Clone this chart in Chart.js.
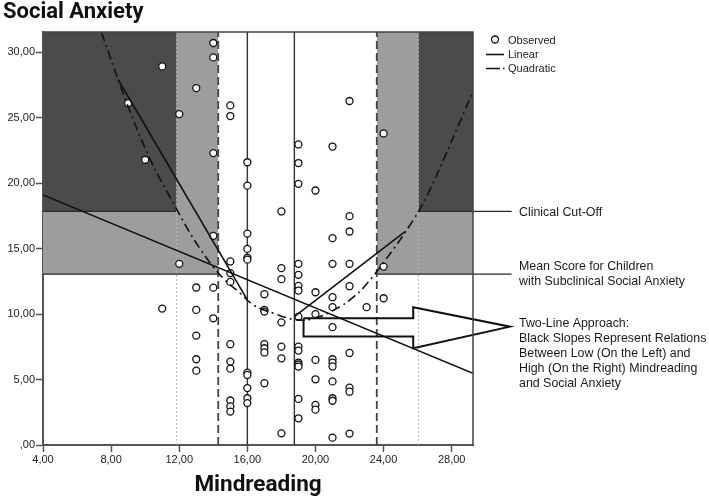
<!DOCTYPE html>
<html>
<head>
<meta charset="utf-8">
<script src="https://cdn.jsdelivr.net/npm/chart.js@4.4.0/dist/chart.umd.min.js"></script>
<style>
  html, body { margin: 0; padding: 0; background: #fff; }
  #wrap { width: 709px; height: 496px; }
</style>
</head>
<body>
<div id="wrap"><canvas id="chart" width="709" height="496"></canvas></div>
<script>
// observed scores
const mindreading = [
  9, 10, 11, 11, 12, 12,
  13, 13, 13, 13, 13, 13,
  14, 14, 14, 14, 14, 14,
  15, 15, 15, 15, 15, 15, 15, 15, 15, 15, 15,
  16, 16, 16, 16, 16, 16, 16, 16, 16, 16, 16,
  17, 17, 17, 17, 17, 17, 17,
  18, 18, 18, 18, 18, 18, 18,
  19, 19, 19, 19, 19, 19, 19, 19, 19, 19, 19, 19, 19, 19, 19,
  20, 20, 20, 20, 20, 20, 20,
  21, 21, 21, 21, 21, 21, 21, 21, 21, 21, 21, 21, 21,
  22, 22, 22, 22, 22, 22, 22, 22, 22,
  23, 24, 24, 24
];
const socialAnxiety = [
  26.12, 21.79, 28.92, 10.42, 25.28, 13.84,
  27.27, 12.03, 10.32, 8.36, 6.55, 5.68,
  30.71, 29.61, 22.30, 15.98, 12.02, 9.68,
  25.94, 25.13, 14.02, 13.13, 12.46, 7.70, 6.37, 5.83, 3.40, 2.95, 2.55,
  21.60, 19.81, 16.15, 14.98, 14.30, 14.16, 5.53, 5.35, 4.35, 3.57, 3.20,
  11.52, 10.32, 10.19, 7.70, 7.39, 7.07, 4.72,
  17.84, 13.51, 12.67, 9.37, 7.52, 6.62, 0.89,
  22.96, 21.54, 19.95, 13.84, 13.00, 12.16, 11.80, 9.81, 7.52, 7.21, 6.30, 6.15, 5.99, 3.52, 2.04,
  19.44, 11.67, 10.00, 6.50, 5.02, 3.06, 2.70,
  22.80, 15.80, 13.84, 11.29, 10.53, 9.00, 6.55, 6.29, 6.00, 4.86, 3.57, 3.38, 0.56,
  26.28, 17.48, 16.31, 13.84, 12.13, 7.03, 4.38, 4.07, 0.87,
  10.53, 23.80, 13.63, 11.21
];

// fit lines (end points / traced points)
const linearX = [4, 29.25];
const linearY = [19.1, 5.48];
const lowSlopeX = [8.42, 16.0];
const lowSlopeY = [27.9, 11.09];
const highSlopeX = [18.76, 25.26];
const highSlopeY = [9.81, 16.3];
const quadX = [7.44, 8.9, 10.3, 11.56, 12.63, 13.22, 14.0, 14.69, 15.57, 16.35, 17.52, 18.9, 20.0, 21.44, 22.13, 22.8, 23.98, 25.75, 26.72, 29.25];
const quadY = [31.5, 26.2, 21.8, 18.7, 16.2, 15.0, 13.6, 12.6, 11.6, 10.7, 10.07, 9.56, 9.7, 10.57, 11.2, 12.0, 13.9, 17.2, 19.5, 27.0];

// reference levels
const clinicalCutOff = 17.84;
const subclinicalMean = 13.05;
const centerLines = [16.0, 18.76];
const dashedLines = [14.29, 23.6];
const dottedLines = [11.85, 26.04];
const labelLineEnd = 31.52;

// block arrow outline
const arrowX = [19.3, 25.74, 25.74, 31.42, 25.74, 25.74, 19.3, 19.3];
const arrowY = [9.69, 9.69, 10.53, 9.04, 7.39, 8.28, 8.28, 9.69];

// axes
const xMin = 4, xMax = 29.25, yMin = 0, yMax = 31.55;
const xTicks = [4, 8, 12, 16, 20, 24, 28];
const xTickLabels = ['4,00', '8,00', '12,00', '16,00', '20,00', '24,00', '28,00'];
const yTicks = [0, 5, 10, 15, 20, 25, 30];
const yTickLabels = [',00', '5,00', '10,00', '15,00', '20,00', '25,00', '30,00'];

const legendLabels = ['Observed', 'Linear', 'Quadratic'];
const notes = {
  cutoff: ['Clinical Cut-Off'],
  mean: ['Mean Score for Children', 'with Subclinical Social Anxiety'],
  twoLine: ['Two-Line Approach:', 'Black Slopes Represent Relations', 'Between Low (On the Left) and',
            'High (On the Right) Mindreading', 'and Social Anxiety']
};

const pts = (xs, ys) => xs.map((x, i) => ({ x, y: ys[i] }));
const vlines = xs => xs.flatMap((x, i) => {
  const seg = [{ x, y: yMin }, { x, y: yMax }];
  return i ? [{ x, y: null }, ...seg] : seg;
});

const DARK = '#4b4b4b', MID = '#9d9d9d', NONE = 'rgba(0,0,0,0)';
const lineDs = (data, extra) => Object.assign({
  type: 'line', data, pointRadius: 0, borderColor: '#111', borderWidth: 1.6,
  fill: false, tension: 0
}, extra);

const extras = {
  id: 'extras',
  afterDraw(chart) {
    const { ctx, chartArea: a, scales: { x, y } } = chart;
    ctx.save();
    // top and right frame
    ctx.strokeStyle = '#444';
    ctx.lineWidth = 1.5;
    ctx.beginPath();
    ctx.moveTo(a.left, a.top);
    ctx.lineTo(a.right, a.top);
    ctx.lineTo(a.right, a.bottom);
    ctx.stroke();

    // legend
    ctx.font = '11px "Liberation Sans", Arial, sans-serif';
    ctx.textBaseline = 'middle';
    ctx.textAlign = 'left';
    const lx = a.right + 13, tx = a.right + 35;
    const rows = [a.top + 8.5, a.top + 22.5, a.top + 36.5];
    ctx.strokeStyle = '#111';
    ctx.lineWidth = 1.3;
    ctx.fillStyle = '#fff';
    ctx.beginPath(); ctx.arc(a.right + 22, rows[0] - 1, 3.5, 0, Math.PI * 2); ctx.fill(); ctx.stroke();
    ctx.lineWidth = 1.6;
    ctx.beginPath(); ctx.moveTo(lx, rows[1]); ctx.lineTo(lx + 18, rows[1]); ctx.stroke();
    ctx.beginPath(); ctx.moveTo(lx, rows[2]); ctx.lineTo(lx + 14, rows[2]); ctx.moveTo(lx + 17, rows[2]); ctx.lineTo(lx + 18.5, rows[2]); ctx.stroke();
    ctx.fillStyle = '#222';
    legendLabels.forEach((t, i) => ctx.fillText(t, tx, rows[i]));

    // annotations
    ctx.font = '12.4px "Liberation Sans", Arial, sans-serif';
    ctx.fillStyle = '#1a1a1a';
    const nx = a.right + 46;
    const cutY = y.getPixelForValue(clinicalCutOff);
    ctx.fillText(notes.cutoff[0], nx, cutY + 1);
    const meanY = y.getPixelForValue(subclinicalMean);
    notes.mean.forEach((t, i) => ctx.fillText(t, nx, meanY - 8 + i * 15));
    const tipY = y.getPixelForValue(arrowY[3]);
    notes.twoLine.forEach((t, i) => ctx.fillText(t, nx, tipY - 2.7 + i * 14.8));
    ctx.restore();
  }
};

new Chart(document.getElementById('chart'), {
  type: 'scatter',
  data: {
    datasets: [
      lineDs(pts(quadX, quadY), { tension: 0.4, borderDash: [9, 4, 2, 4], borderWidth: 1.6 }),
      lineDs(pts(linearX, linearY)),
      lineDs(pts(lowSlopeX, lowSlopeY)),
      lineDs(pts(highSlopeX, highSlopeY)),
      lineDs(pts(arrowX, arrowY), { borderWidth: 2, clip: false }),
      {
        type: 'scatter', data: pts(mindreading, socialAnxiety),
        pointRadius: 3.5, pointBorderWidth: 1.3, pointBorderColor: '#111', pointBackgroundColor: '#fff'
      },
      lineDs(vlines(centerLines), { borderColor: '#333', borderWidth: 1.4 }),
      lineDs(vlines(dashedLines), { borderColor: '#444', borderWidth: 1.8, borderDash: [8, 4] }),
      lineDs(vlines(dottedLines), { borderColor: '#b5b5b5', borderWidth: 1, borderDash: [2, 2] }),
      lineDs([{ x: xMin, y: clinicalCutOff }, { x: dottedLines[0], y: clinicalCutOff }, { x: dottedLines[0], y: null },
              { x: dottedLines[1], y: clinicalCutOff }, { x: labelLineEnd, y: clinicalCutOff }],
             { borderColor: '#2a2a2a', borderWidth: 1.3, clip: false }),
      lineDs([{ x: xMin, y: subclinicalMean }, { x: dashedLines[0], y: subclinicalMean }, { x: dashedLines[0], y: null },
              { x: dashedLines[1], y: subclinicalMean }, { x: labelLineEnd, y: subclinicalMean }],
             { borderColor: '#2a2a2a', borderWidth: 1.3, clip: false }),
      lineDs([{ x: xMin, y: yMax }, { x: dottedLines[0], y: yMax }],
             { borderColor: NONE, backgroundColor: DARK, fill: { value: clinicalCutOff } }),
      lineDs([{ x: dottedLines[1], y: yMax }, { x: xMax, y: yMax }],
             { borderColor: NONE, backgroundColor: DARK, fill: { value: clinicalCutOff } }),
      lineDs([{ x: xMin, y: yMax }, { x: dashedLines[0], y: yMax }],
             { borderColor: NONE, backgroundColor: MID, fill: { value: subclinicalMean } }),
      lineDs([{ x: dashedLines[1], y: yMax }, { x: xMax, y: yMax }],
             { borderColor: NONE, backgroundColor: MID, fill: { value: subclinicalMean } })
    ]
  },
  options: {
    responsive: false,
    devicePixelRatio: 1,
    animation: false,
    events: [],
    layout: { padding: { left: 3, right: 236, top: 0, bottom: 0 } },
    plugins: {
      legend: { display: false },
      tooltip: { enabled: false },
      title: {
        display: true, text: 'Social Anxiety', align: 'start', color: '#111',
        font: { family: 'Roboto', size: 22, weight: 'bold', lineHeight: 0.9 },
        padding: { top: 3, bottom: 9.2 }
      }
    },
    scales: {
      x: {
        type: 'linear', min: xMin, max: xMax,
        afterBuildTicks: s => { s.ticks = xTicks.map(v => ({ value: v })); },
        afterFit: s => { s.height = 51; },
        ticks: {
          callback: (v, i) => xTickLabels[i], autoSkip: false, maxRotation: 0,
          font: { family: 'Liberation Sans', size: 11 }, color: '#222', padding: 1
        },
        grid: { drawOnChartArea: false, drawTicks: true, tickLength: 7, tickColor: '#555', tickWidth: 1.5 },
        border: { display: true, color: '#555', width: 2 },
        title: {
          display: true, text: 'Mindreading', color: '#111',
          font: { family: 'Roboto', size: 22.5, weight: 'bold', lineHeight: 1 },
          padding: { top: 0, bottom: -1 }
        }
      },
      y: {
        type: 'linear', min: yMin, max: yMax,
        afterBuildTicks: s => { s.ticks = yTicks.map(v => ({ value: v })); },
        afterFit: s => { s.width = 40; },
        ticks: {
          callback: (v, i) => yTickLabels[i], autoSkip: false,
          font: { family: 'Liberation Sans', size: 11 }, color: '#222', padding: 1
        },
        grid: { drawOnChartArea: false, drawTicks: true, tickLength: 7, tickColor: '#555', tickWidth: 1.5 },
        border: { display: true, color: '#555', width: 2 }
      }
    }
  },
  plugins: [extras]
});
</script>
</body>
</html>
